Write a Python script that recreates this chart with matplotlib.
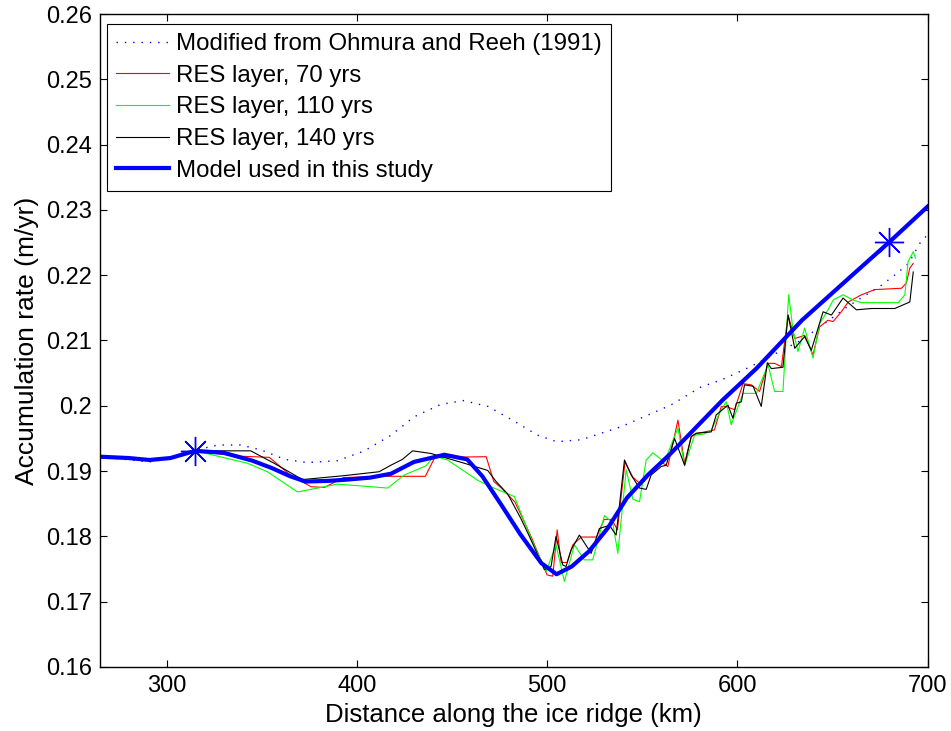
import numpy as np
import matplotlib
matplotlib.use('Agg')
import matplotlib.pyplot as plt

plt.rcParams['font.family'] = ['Liberation Sans', 'DejaVu Sans']

# model used in this study
model_x = [265, 280, 291, 302, 315, 330, 345, 355, 365, 373, 385, 395, 407, 418, 430, 446, 458, 466,
           476, 486, 497, 505, 513, 522, 532, 542, 553, 565, 580, 592, 610, 634, 660, 680, 700]
model_y = [0.1922, 0.1920, 0.1917, 0.1920, 0.1931, 0.1928, 0.1916, 0.1905, 0.1892, 0.1884, 0.1885,
           0.1887, 0.1890, 0.1896, 0.1914, 0.1925, 0.1918, 0.1892, 0.1848, 0.1803, 0.1759, 0.1742,
           0.1754, 0.1777, 0.1813, 0.1859, 0.1894, 0.1927, 0.1972, 0.2008, 0.2057, 0.2131, 0.2199,
           0.2251, 0.2305]

# modified from Ohmura and Reeh (1991)
ohm_x = [265, 291, 303, 315, 327, 339, 350, 362, 374, 390, 404, 418, 430, 444, 456, 469, 483, 495,
         505, 518, 539, 565, 581, 592, 607, 634, 658, 676, 684, 690, 696, 700]
ohm_y = [0.1922, 0.1914, 0.1920, 0.1932, 0.1940, 0.1940, 0.1932, 0.1918, 0.1913, 0.1916, 0.1931,
         0.1955, 0.1983, 0.2002, 0.2008, 0.1999, 0.1976, 0.1955, 0.1945, 0.1948, 0.1968, 0.2001,
         0.2029, 0.2040, 0.2060, 0.2101, 0.2152, 0.2185, 0.2203, 0.2218, 0.2249, 0.2262]

# RES layer, 70 yrs
r70_x = [315, 337, 354, 365, 376, 383, 393, 413, 436, 441, 468, 472, 476, 483, 486, 492, 496, 500,
         503, 505.3, 507.4, 510.5, 513.5, 518, 526, 530, 534, 537, 541, 545, 549.5, 553, 560, 563.5,
         568.8, 572.3, 575.8, 579.3, 588, 591.6, 594, 598.6, 603, 607.4, 611.7, 616.2, 619.6, 623.2,
         626.7, 630.2, 635.4, 639.8, 643.3, 647.7, 650.4, 654.7, 658.3, 665.3, 672.3, 686.3, 688.9,
         690.7, 692.5]
r70_y = [0.1931, 0.1923, 0.1921, 0.1894, 0.1876, 0.1875, 0.1890, 0.1892, 0.1892, 0.1921, 0.1922,
         0.1884, 0.1874, 0.1853, 0.1835, 0.1797, 0.1769, 0.1741, 0.1739, 0.1810, 0.1760, 0.1760,
         0.1787, 0.1799, 0.1799, 0.1826, 0.1826, 0.1810, 0.1914, 0.1891, 0.1879, 0.1891, 0.1914,
         0.1907, 0.1978, 0.1912, 0.1953, 0.1958, 0.1963, 0.1999, 0.1999, 0.1994, 0.2034, 0.2032,
         0.2022, 0.2065, 0.2065, 0.2060, 0.2139, 0.2103, 0.2108, 0.2078, 0.2121, 0.2131, 0.2129,
         0.2144, 0.2159, 0.2170, 0.2178, 0.2180, 0.2188, 0.2211, 0.2218]

# RES layer, 110 yrs
r110_x = [315, 342.5, 353, 368.8, 389.8, 416.2, 424.9, 436.3, 440.7, 447.7, 463.5, 470.5, 482.8,
          487.2, 491.6, 499.5, 504.7, 509.1, 514.4, 519.6, 524, 530.2, 534.6, 537.2, 541.6, 545.1,
          548.6, 552.1, 555.6, 561.7, 568.8, 572.3, 577.5, 582.8, 586.3, 591.6, 594.2, 596.8, 603,
          610, 616.2, 619.6, 624, 627, 629.3, 631.9, 635.4, 639.8, 643.3, 647.7, 650.4, 655.6, 660.9,
          665.3, 684.6, 688.1, 689.8, 692.5, 693.7]
r110_y = [0.1931, 0.1912, 0.1899, 0.1868, 0.1880, 0.1874, 0.1894, 0.1908, 0.1923, 0.1917, 0.1886,
          0.1876, 0.1861, 0.1829, 0.1797, 0.1746, 0.1787, 0.1731, 0.1787, 0.1764, 0.1764, 0.1832,
          0.1820, 0.1774, 0.1902, 0.1857, 0.1853, 0.1917, 0.1928, 0.1914, 0.1966, 0.1908, 0.1955,
          0.1957, 0.1963, 0.1994, 0.2006, 0.1971, 0.2019, 0.2019, 0.2063, 0.2022, 0.2022, 0.2170,
          0.2116, 0.2083, 0.2119, 0.2073, 0.2126, 0.2147, 0.2162, 0.2170, 0.2162, 0.2158, 0.2158,
          0.2170, 0.2221, 0.2236, 0.2226]

# RES layer, 140 yrs
r140_x = [315, 344.2, 356.5, 371.4, 393.3, 411.7, 417.9, 424, 429.3, 438.9, 456.5, 468.8, 473.2,
          479.3, 486.3, 490.7, 498.6, 502.1, 504.7, 508.3, 510, 512.6, 517, 523.2, 527.5, 532.8,
          536.3, 540.7, 544.2, 548.6, 552.1, 554.7, 560, 562.6, 567, 572.3, 575.8, 578.4, 586.3,
          588.9, 595.1, 597.7, 599.5, 602.1, 603.8, 608.3, 612.6, 615.8, 617.9, 624, 626.7, 630.2,
          635.4, 638.9, 645.1, 649.5, 655.6, 662.6, 670.5, 682.8, 690.7, 692.5]
r140_y = [0.1931, 0.1931, 0.1912, 0.1887, 0.1893, 0.1899, 0.1909, 0.1918, 0.1931, 0.1927, 0.1912,
          0.1901, 0.1884, 0.1865, 0.1827, 0.1800, 0.1749, 0.1754, 0.1800, 0.1756, 0.1754, 0.1779,
          0.1802, 0.1774, 0.1812, 0.1817, 0.1802, 0.1917, 0.1894, 0.1874, 0.1872, 0.1894, 0.1907,
          0.1909, 0.1950, 0.1909, 0.1953, 0.1958, 0.1960, 0.1986, 0.2001, 0.1981, 0.2004, 0.2006,
          0.2032, 0.2030, 0.1999, 0.2066, 0.2057, 0.2059, 0.2139, 0.2088, 0.2106, 0.2085, 0.2144,
          0.2139, 0.2165, 0.2147, 0.2149, 0.2149, 0.2159, 0.2205]

# end points marked with stars
star_x = [315, 680]
star_y = [0.1931, 0.2251]

fig = plt.figure(figsize=(9.51, 7.31), dpi=100)
ax = fig.add_axes([0.1052, 0.0876, 0.8701, 0.8932])

ax.plot(ohm_x, ohm_y, color='b', lw=1.0, linestyle=(0, (1, 5)),
        label='Modified from Ohmura and Reeh (1991)')
ax.plot(r70_x, r70_y, color='r', lw=0.8, label='RES layer, 70 yrs')
ax.plot(r110_x, r110_y, color='#00ff00', lw=0.8, label='RES layer, 110 yrs')
ax.plot(r140_x, r140_y, color='k', lw=0.8, label='RES layer, 140 yrs')
ax.plot(model_x, model_y, color='b', lw=3.0, label='Model used in this study')
ax.plot(star_x, star_y, linestyle='none', marker=(8, 2, 0), markersize=21,
        markeredgecolor='b', markeredgewidth=1.0)

ax.set_xlim(265, 700)
ax.set_ylim(0.16, 0.26)
ax.set_xticks([300, 400, 500, 600, 700])
yt = np.arange(16, 27) / 100
ax.set_yticks(yt)
ax.set_yticklabels(['%g' % v for v in yt])
ax.tick_params(direction='in', length=5, width=0.8, top=True, right=True,
               labelsize=17, pad=6)
for s in ax.spines.values():
    s.set_linewidth(1.0)

ax.set_xlabel('Distance along the ice ridge (km)', fontsize=18.5, labelpad=4)
ax.set_ylabel('Accumulation rate (m/yr)', fontsize=19, labelpad=5)

leg = ax.legend(loc='upper left', bbox_to_anchor=(0.0085, 0.9847), borderaxespad=0,
                fontsize=17.3, handlelength=2.2, handletextpad=0.3, labelspacing=0.4,
                fancybox=False, framealpha=1, edgecolor='k', borderpad=0.38)
leg.get_frame().set_linewidth(0.8)

fig.savefig('out.png', dpi=100)
